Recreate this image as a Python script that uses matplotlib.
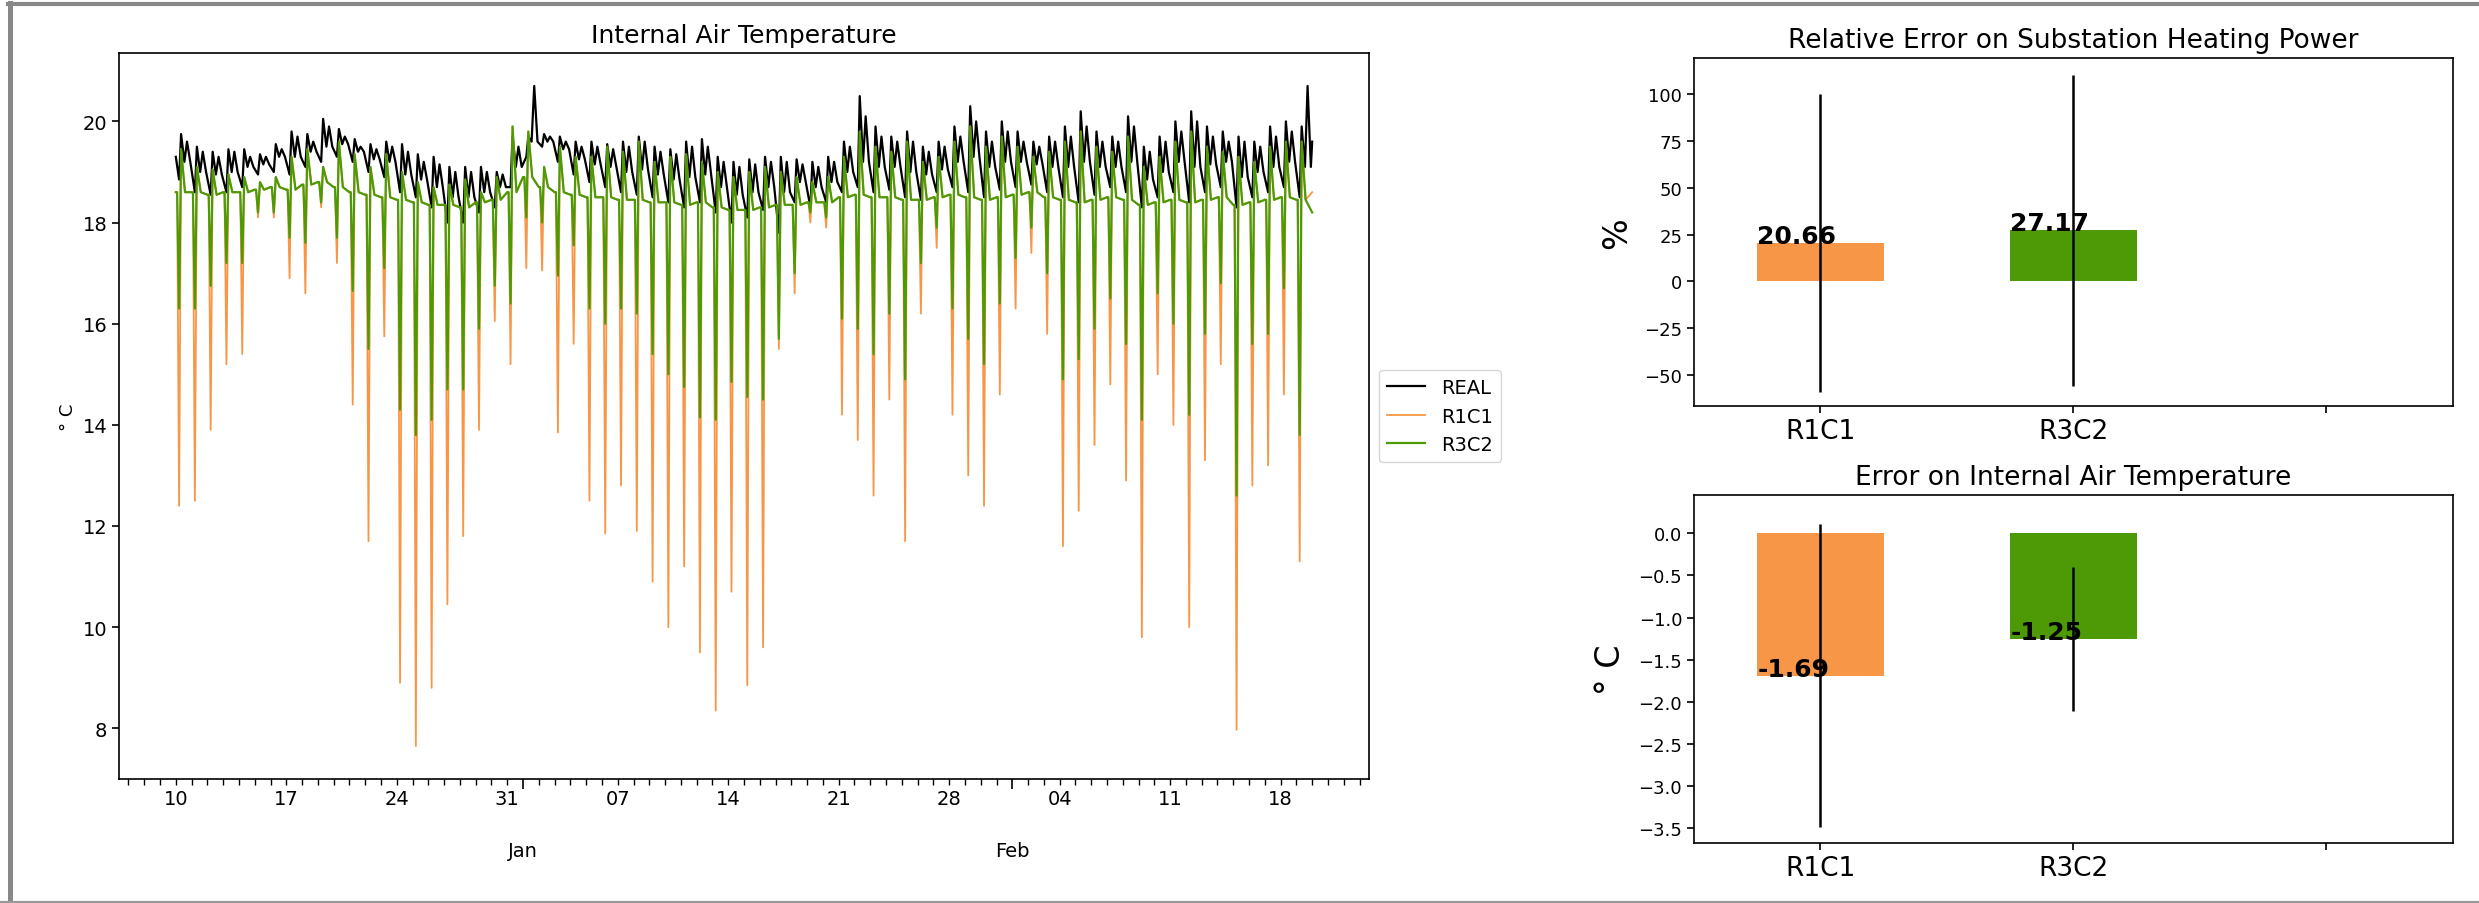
import numpy as np
import pandas as pd
import matplotlib
matplotlib.use('Agg')
import matplotlib.pyplot as plt
import matplotlib.dates as mdates
from matplotlib.ticker import FuncFormatter

# ---- data ----
first_day = '2018-12-10'
last_time = '2019-02-20 00:00'
n_days = 72

# REAL measured temperature, per day (morning low, morning peak, midday, afternoon peak)
real_start = 19.3
real_end = 19.6
real_low = [18.85, 18.6, 18.55, 18.6, 18.7, 18.95, 19.0, 18.95, 19.1, 19.2, 19.3, 19.2, 19.0, 18.9,
            18.6, 18.5, 18.3, 18.0, 18.0, 18.2, 18.3, 18.7, 19.3, 19.5, 19.2, 18.95, 18.8, 18.7,
            18.6, 18.55, 18.5, 18.4, 18.3, 18.4, 18.2, 18.0, 18.1, 18.25, 17.8, 18.4, 18.3, 18.4,
            18.6, 18.7, 18.6, 18.65, 18.5, 18.45, 18.6, 18.7, 18.6, 18.5, 18.65, 18.7, 18.75, 18.6,
            18.5, 18.4, 18.55, 18.7, 18.6, 18.3, 18.5, 18.6, 18.4, 18.6, 18.7, 18.3, 18.5, 18.6,
            18.7, 18.5]
real_am = [19.75, 19.5, 19.4, 19.45, 19.45, 19.35, 19.55, 19.8, 19.75, 20.05, 19.85, 19.65, 19.55, 19.6,
           19.55, 19.35, 19.3, 19.1, 19.1, 19.1, 19.0, 19.7, 19.7, 19.75, 19.7, 19.6, 19.6, 19.55,
           19.6, 19.7, 19.5, 19.45, 19.6, 19.65, 19.3, 19.2, 19.25, 19.3, 19.3, 19.25, 19.2, 19.3,
           19.6, 20.5, 19.9, 19.7, 19.8, 19.5, 19.6, 19.9, 20.3, 19.8, 20.0, 19.8, 19.6, 19.7,
           19.9, 20.2, 19.8, 19.7, 20.1, 19.5, 19.7, 20.0, 20.2, 19.9, 19.8, 19.7, 19.6, 19.9,
           20.0, 19.9]
real_mid = [19.2, 19.0, 18.95, 19.0, 19.1, 19.15, 19.3, 19.3, 19.4, 19.5, 19.55, 19.4, 19.25, 19.2,
            18.95, 18.85, 18.7, 18.5, 18.5, 18.6, 18.7, 19.1, 19.6, 19.6, 19.45, 19.25, 19.15, 19.1,
            19.0, 19.05, 18.95, 18.85, 18.9, 18.95, 18.7, 18.55, 18.6, 18.7, 18.6, 18.8, 18.7, 18.8,
            19.0, 19.2, 19.1, 19.1, 19.0, 18.95, 19.05, 19.2, 19.3, 19.1, 19.2, 19.2, 19.15, 19.1,
            19.1, 19.2, 19.1, 19.1, 19.2, 18.85, 19.0, 19.2, 19.1, 19.15, 19.2, 18.9, 19.0, 19.1,
            19.2, 19.1]
real_pm = [19.6, 19.4, 19.3, 19.4, 19.3, 19.3, 19.45, 19.7, 19.6, 19.9, 19.7, 19.5, 19.45, 19.5,
           19.4, 19.2, 19.15, 19.0, 19.0, 19.0, 18.95, 19.5, 20.7, 19.7, 19.6, 19.5, 19.5, 19.45,
           19.5, 19.6, 19.4, 19.35, 19.5, 19.5, 19.2, 19.1, 19.15, 19.2, 19.2, 19.15, 19.1, 19.2,
           19.5, 20.1, 19.7, 19.6, 19.6, 19.4, 19.5, 19.7, 20.0, 19.6, 19.8, 19.6, 19.5, 19.6,
           19.7, 19.9, 19.6, 19.6, 19.9, 19.4, 19.6, 19.8, 20.0, 19.7, 19.6, 19.6, 19.5, 19.7,
           19.8, 20.7]

# simulated models: plateau and morning peak (both models nearly overlap), morning dips
model_base = [18.6, 18.6, 18.55, 18.6, 18.6, 18.65, 18.7, 18.65, 18.75, 18.8, 18.7, 18.6, 18.55, 18.5,
              18.45, 18.4, 18.35, 18.35, 18.3, 18.4, 18.45, 18.6, 18.9, 18.7, 18.6, 18.55, 18.5, 18.5,
              18.45, 18.45, 18.4, 18.4, 18.35, 18.4, 18.3, 18.25, 18.25, 18.3, 18.35, 18.35, 18.4, 18.4,
              18.5, 18.55, 18.5, 18.5, 18.45, 18.45, 18.5, 18.55, 18.5, 18.45, 18.5, 18.55, 18.6, 18.5,
              18.45, 18.4, 18.45, 18.5, 18.45, 18.35, 18.4, 18.45, 18.4, 18.45, 18.5, 18.35, 18.4, 18.45,
              18.5, 18.45]
model_peak = [19.45, 19.1, 19.05, 18.95, 18.9, 18.8, 18.9, 19.3, 19.45, 19.1, 19.6, 19.35, 19.1, 19.35,
              19.0, 18.8, 18.7, 18.75, 18.85, 18.6, 18.9, 19.9, 19.8, 19.1, 19.5, 19.3, 19.3, 19.5,
              19.4, 19.6, 19.2, 19.3, 19.35, 19.2, 19.0, 18.9, 19.0, 19.1, 19.0, 18.9, 18.8, 18.9,
              19.3, 19.8, 19.5, 19.4, 19.6, 19.2, 19.3, 19.6, 19.9, 19.5, 19.7, 19.5, 19.3, 19.4,
              19.6, 19.8, 19.5, 19.4, 19.7, 19.1, 19.3, 19.6, 19.8, 19.5, 19.4, 19.3, 19.2, 19.5,
              19.6, 19.6]
r1c1_dip = [12.4, 12.5, 13.9, 15.2, 15.4, 18.1, 18.1, 16.9, 16.6, 18.3, 17.2, 14.4, 11.7, 15.75,
            8.9, 7.65, 8.8, 10.45, 11.8, 13.9, 16.05, 15.2, 17.1, 17.05, 13.85, 15.6, 12.5, 11.85,
            12.8, 11.9, 10.9, 10.0, 11.2, 9.5, 8.35, 10.7, 8.85, 9.6, 15.5, 16.6, 18.0, 17.9,
            14.2, 13.7, 12.6, 14.5, 11.7, 16.2, 17.5, 14.2, 13.0, 12.4, 14.6, 16.3, 17.4, 15.8,
            11.6, 12.3, 13.6, 14.8, 12.9, 9.8, 15.0, 14.0, 10.0, 13.3, 15.2, 7.97, 12.8, 13.2,
            14.6, 11.3]
r3c2_dip = [16.3, 16.3, 16.75, 17.2, 17.2, 18.2, 18.2, 17.7, 17.6, 18.4, 17.7, 16.65, 15.5, 17.1,
            14.3, 13.8, 14.1, 14.7, 14.7, 15.9, 16.75, 16.4, 18.1, 18.0, 16.95, 17.55, 16.3, 16.0,
            16.3, 16.2, 15.4, 15.0, 14.75, 14.15, 14.1, 14.85, 14.55, 14.5, 15.7, 17.0, 18.2, 18.1,
            16.1, 15.9, 15.4, 16.2, 14.9, 17.2, 17.9, 16.3, 15.7, 15.2, 16.4, 17.3, 17.9, 17.0,
            14.9, 15.3, 15.9, 16.5, 15.6, 14.1, 16.6, 16.0, 14.2, 15.8, 16.8, 12.6, 15.6, 15.8,
            16.7, 13.8]
r1c1_end = 18.6
r3c2_end = 18.2

# error bars on the right
models = ['R1C1', 'R3C2']
power_err_mean = [20.66, 27.17]
power_err_std = [79.5, 83.0]
temp_err_mean = [-1.69, -1.25]
temp_err_std = [1.8, 0.855]
bar_colors = ['#f79646', '#4e9a06']

# ---- build time series ----
days = pd.date_range(first_day, periods=n_days, freq='D')


def day_points(hours, cols):
    t, v = [], []
    for i, day in enumerate(days):
        for h, col in zip(hours, cols):
            t.append(day + pd.Timedelta(hours=h))
            v.append(col[i])
    return t, v


t_real, v_real = day_points([5, 8, 13, 17, 22], [real_low, real_am, real_mid, real_pm, real_mid])
t_real = [days[0]] + t_real + [pd.Timestamp(last_time)]
v_real = [real_start] + v_real + [real_end]

model_hours = [0, 2, 5, 8, 14]
t_r1, v_r1 = day_points(model_hours, [model_base, model_base, r1c1_dip, model_peak, model_base])
t_r1.append(pd.Timestamp(last_time)); v_r1.append(r1c1_end)
t_r3, v_r3 = day_points(model_hours, [model_base, model_base, r3c2_dip, model_peak, model_base])
t_r3.append(pd.Timestamp(last_time)); v_r3.append(r3c2_end)

# ---- figure ----
W, H = 2479, 904
fig = plt.figure(figsize=(W / 100, H / 100), dpi=100)
plt.rcParams['axes.linewidth'] = 1.2

ax = fig.add_axes([119 / W, 1 - 780 / H, (1369 - 119) / W, (780 - 54) / H])
ax.plot(pd.DatetimeIndex(t_real), v_real, color='black', lw=1.6, label='REAL')
ax.plot(pd.DatetimeIndex(t_r1), v_r1, color='#f79646', lw=1.3, label='R1C1')
ax.plot(pd.DatetimeIndex(t_r3), v_r3, color='#4e9a06', lw=1.6, label='R3C2')
ax.set_title('Internal Air Temperature', fontsize=18, pad=8)
ax.set_ylabel('° C', fontsize=13)

ax.xaxis.set_major_locator(mdates.MonthLocator())
ax.xaxis.set_major_formatter(mdates.DateFormatter('%b'))
ax.xaxis.set_minor_locator(mdates.DayLocator())


def monday_label(x, pos):
    d = mdates.num2date(x)
    return d.strftime('%d') if d.weekday() == 0 else ''


ax.xaxis.set_minor_formatter(FuncFormatter(monday_label))
ax.tick_params(axis='x', which='major', length=7, width=1.2, labelsize=14, pad=38)
ax.tick_params(axis='x', which='minor', length=4, width=1.0, labelsize=14)
ax.tick_params(axis='y', length=5, width=1.2, labelsize=14)
ax.legend(loc='center left', bbox_to_anchor=(1, 0.5), fontsize=14, borderaxespad=0.5)

# right top: power error
x = np.arange(len(models))
ax1 = fig.add_axes([1694 / W, 1 - 407 / H, (2453 - 1694) / W, (407 - 59) / H])
ax1.bar(x, power_err_mean, width=0.5, color=bar_colors)
ax1.errorbar(x, power_err_mean, yerr=power_err_std, fmt='none', ecolor='black', elinewidth=1.8)
for i, v in enumerate(power_err_mean):
    ax1.text(i - 0.25, v, f'{v:.2f}', fontsize=18, fontweight='bold', ha='left', va='baseline')
ax1.set_title('Relative Error on Substation Heating Power', fontsize=19, pad=8)
ax1.set_ylabel('%', fontsize=24, labelpad=8)
ax1.set_xticks([0, 1, 2])
ax1.set_xticklabels(models + [''], fontsize=19)
ax1.set_xlim(-0.5, 2.5)
ax1.set_ylim(-66.5, 119.2)
ax1.tick_params(axis='y', labelsize=13, length=5, width=1.2)
ax1.tick_params(axis='x', length=5, width=1.2)

# right bottom: temperature error
ax2 = fig.add_axes([1694 / W, 1 - 844 / H, (2453 - 1694) / W, (844 - 496) / H])
ax2.bar(x, temp_err_mean, width=0.5, color=bar_colors)
ax2.errorbar(x, temp_err_mean, yerr=temp_err_std, fmt='none', ecolor='black', elinewidth=1.8)
for i, v in enumerate(temp_err_mean):
    ax2.text(i - 0.25, v, f'{v:.2f}', fontsize=18, fontweight='bold', ha='left', va='baseline')
ax2.set_title('Error on Internal Air Temperature', fontsize=19, pad=8)
ax2.set_ylabel('° C', fontsize=24, labelpad=8)
ax2.set_xticks([0, 1, 2])
ax2.set_xticklabels(models + [''], fontsize=19)
ax2.set_xlim(-0.5, 2.5)
ax2.set_ylim(-3.674, 0.454)
ax2.tick_params(axis='y', labelsize=13, length=5, width=1.2)
ax2.tick_params(axis='x', length=5, width=1.2)

# grey screenshot frame
grey = '#888888'
fig.add_artist(plt.Line2D([10 / W, 10 / W], [0, 1 - 4 / H], transform=fig.transFigure, color=grey, lw=3.6))
fig.add_artist(plt.Line2D([8 / W, 1], [1 - 5 / H, 1 - 5 / H], transform=fig.transFigure, color=grey, lw=3.0))
fig.add_artist(plt.Line2D([0, 1], [1.5 / H, 1.5 / H], transform=fig.transFigure, color='#999999', lw=1.6))

fig.savefig('out.png', dpi=100)
